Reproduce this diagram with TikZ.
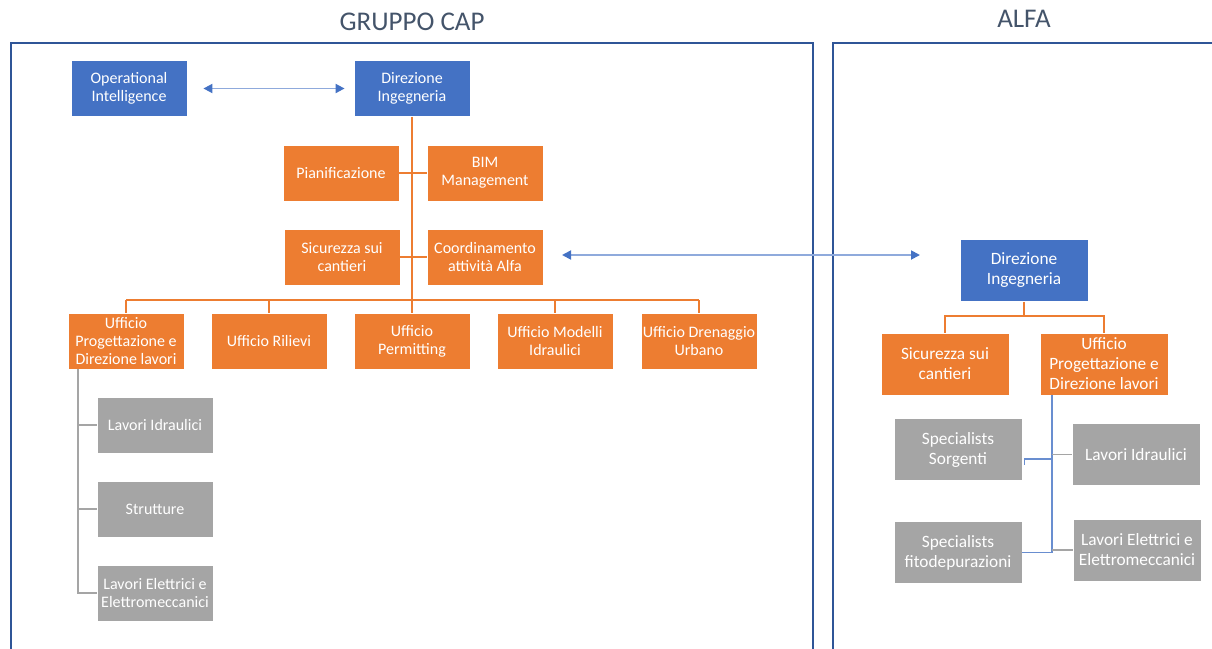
\documentclass[tikz,border=0pt]{standalone}
\usepackage{fontspec}
\setmainfont{Carlito}
\usetikzlibrary{arrows.meta,calc}

\definecolor{headblue}{HTML}{4472C4}
\definecolor{officeorange}{HTML}{ED7D31}
\definecolor{teamgray}{HTML}{A5A5A5}
\definecolor{frameblue}{HTML}{2F5597}
\definecolor{titlegray}{HTML}{44546A}
\definecolor{linkblue}{HTML}{8FAADC}

\tikzset{
  unit/.style={draw=white, line width=0.8pt, text=white, align=center,
    inner sep=1pt, minimum width=116pt, minimum height=56pt,
    font=\fontsize{16}{18}\selectfont},
  wideunit/.style={minimum width=128pt, minimum height=62pt,
    font=\fontsize{17.3}{20}\selectfont},
  head/.style={unit, fill=headblue},
  office/.style={unit, fill=officeorange},
  team/.style={unit, fill=teamgray},
  orgline/.style={draw=officeorange, line width=2pt},
  teamline/.style={draw=teamgray, line width=1.6pt},
  bluewire/.style={draw=headblue!80, line width=1.2pt},
  link/.style={draw=linkblue, line width=1.8pt,
    {Triangle[length=9pt,width=9pt,color=headblue]}-{Triangle[length=9pt,width=9pt,color=headblue]}},
  frame/.style={draw=frameblue, line width=1.6pt},
  grouptitle/.style={text=titlegray, font=\fontsize{27}{30}\selectfont}
}

\begin{document}
\begin{tikzpicture}[x=1pt,y=-1pt]

    % --- Canvas (pixel grid, y downwards) ---
    \useasboundingbox (0,0) rectangle (1212,648);

    % --- Group frames and titles ---
    \draw[frame] (11,652) |- (813,43) -- (813,652);
    \draw[frame] (833,652) |- (1216,43);
    \node[grouptitle] (capname) at (412,22) {GRUPPO CAP};
    \node[grouptitle] (alfaname) at (1024,19) {ALFA};

    % --- GRUPPO CAP: top level ---
    \node[head] (oi) at (129,88.5) {Operational\\Intelligence};
    \node[head] (di) at (412,88.5) {Direzione\\Ingegneria};

    % staff offices along the trunk
    \node[office] (pian) at (341,173) {Pianificazione};
    \node[office] (bim)  at (485,173) {BIM\\Management};
    \node[office] (sic)  at (342,257) {Sicurezza sui\\cantieri};
    \node[office] (coord) at (485,257) {Coordinamento\\attivit\`a Alfa};

    % line offices
    \node[office] (upd)  at (126,341) {Ufficio\\Progettazione e\\Direzione lavori};
    \node[office] (uril) at (269,341) {Ufficio Rilievi};
    \node[office] (uper) at (412,341) {Ufficio\\Permitting};
    \node[office] (umod) at (555,341) {Ufficio Modelli\\Idraulici};
    \node[office] (udu)  at (699,341) {Ufficio Drenaggio\\Urbano};

    % teams under Progettazione
    \node[team] (li)  at (155,425) {Lavori Idraulici};
    \node[team] (str) at (155,509) {Strutture};
    \node[team] (lel) at (155,593) {Lavori Elettrici e\\Elettromeccanici};

    % --- ALFA ---
    \node[head, wideunit] (adi) at (1024,270.5) {Direzione\\Ingegneria};
    \node[office, wideunit] (asic) at (945,364) {Sicurezza sui\\cantieri};
    \node[office, wideunit] (aupd) at (1104,364) {Ufficio\\Progettazione e\\Direzione lavori};
    \node[team, wideunit] (asorg) at (958,449.5) {Specialists\\Sorgenti};
    \node[team, wideunit] (afito) at (958,552.5) {Specialists\\fitodepurazioni};
    \node[team, wideunit] (ali) at (1136,454.5) {Lavori Idraulici};
    \node[team, wideunit] (ale) at (1137,550) {Lavori Elettrici e\\Elettromeccanici};

    % --- Junction points ---
    \coordinate (trunkend) at (412,300);
    \coordinate (spine) at (78,369);
    \coordinate (abus) at (1024,316);
    \coordinate (atop) at (1052,395);
    \coordinate (abot) at (1052,553);
    \coordinate (asj) at (1052,459);
    \coordinate (capend) at (562,255);
    \coordinate (alfaend) at (920,255);

    % --- Connectors: GRUPPO CAP ---
    \draw[orgline] (di.south) -- (trunkend);
    \draw[orgline] (pian.east) -- (bim.west);
    \draw[orgline] (sic.east) -- (coord.west);
    \draw[orgline] (upd.north |- trunkend) -- (udu.north |- trunkend);
    \foreach \u in {upd,uril,uper,umod,udu}
      \draw[orgline] (\u.north) -- (\u.north |- trunkend);

    \draw[teamline] (spine) |- (lel.west);
    \draw[teamline] (spine |- li.west) -- (li.west);
    \draw[teamline] (spine |- str.west) -- (str.west);

    % --- Connectors: ALFA ---
    \draw[orgline] (adi.south) -- (abus);
    \draw[orgline] (asic.north) |- (abus) -| (aupd.north);
    \draw[bluewire] (atop) -- (abot);
    \draw[bluewire] ($(asorg.east)+(2,15)$) |- (asj);
    \draw[bluewire] (afito.east) -- (afito.east -| abot);
    \draw[teamline] (atop |- ali.west) -- (ali.west);
    \draw[teamline] (atop |- ale.west) -- (ale.west);

    % --- Two-way links ---
    \draw[link] ([xshift=16pt]oi.east) -- ([xshift=-9pt]di.west);
    \draw[link] (capend) -- (alfaend);

\end{tikzpicture}
\end{document}
